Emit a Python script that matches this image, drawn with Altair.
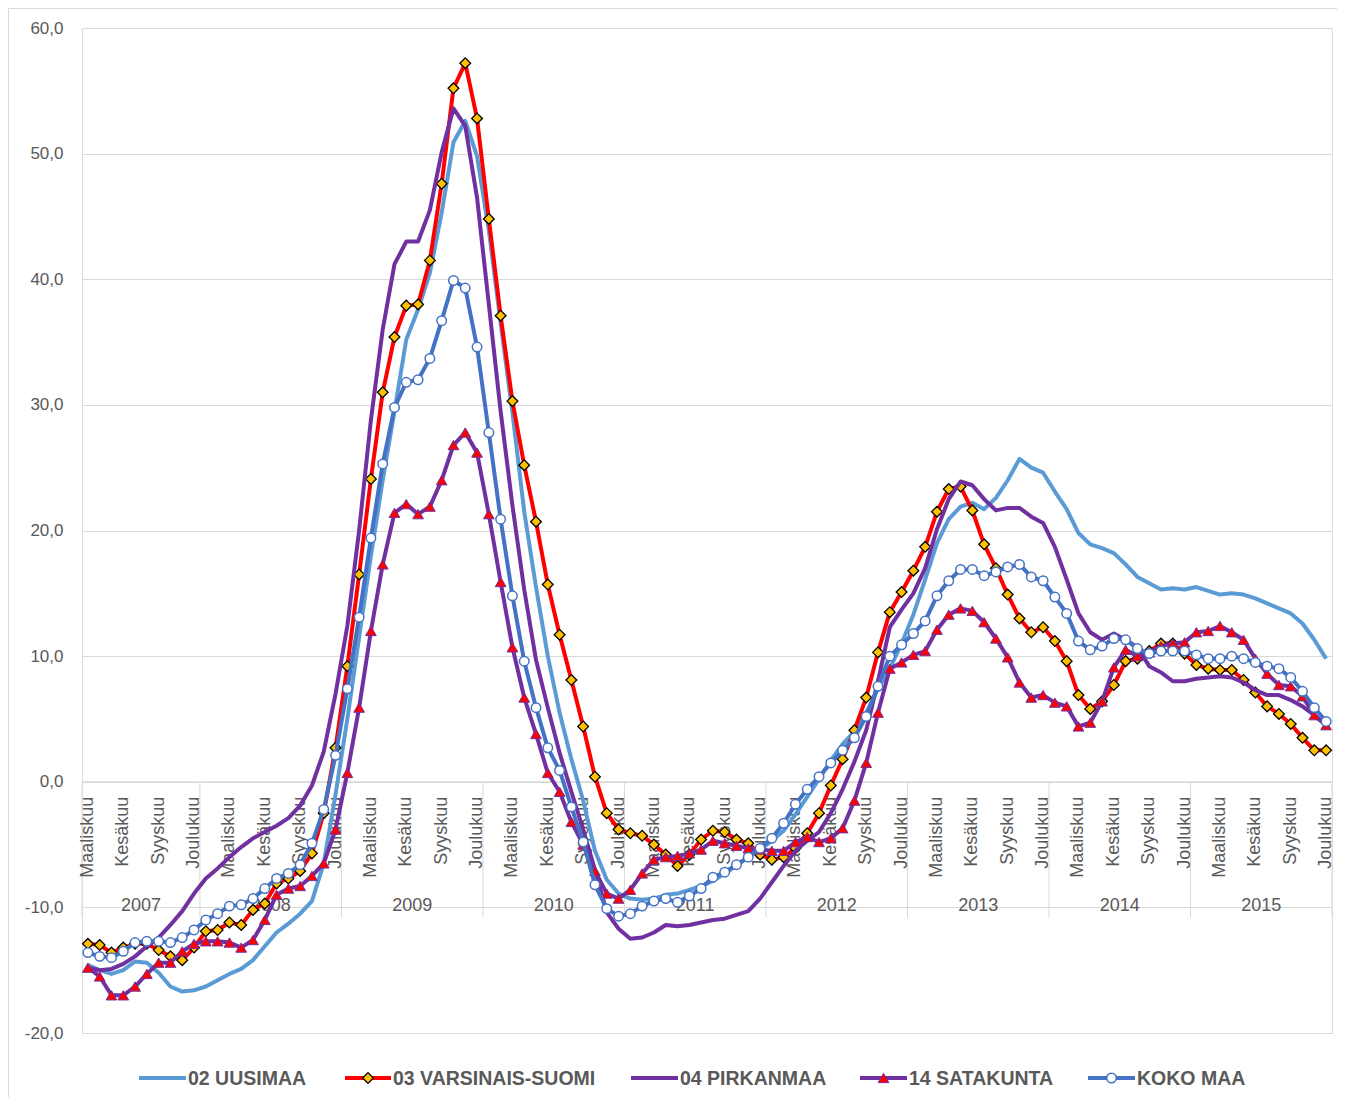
import altair as alt
import pandas as pd

# ---------------- data (monthly, Maaliskuu 2007 .. Joulukuu 2015) ----------------
uusimaa = [-14.6, -15.0, -15.3, -15.0, -14.3, -14.4, -15.2, -16.3, -16.7, -16.6,
           -16.3, -15.8, -15.3, -14.9, -14.2, -13.1, -12.0, -11.3, -10.5, -9.5, -6.5, -1.0,
           5.0, 11.5, 18.0, 24.0, 29.5, 35.2, 37.6, 40.5, 45.3, 50.9, 52.6, 49.8,
           43.9, 36.5, 29.4, 21.5, 15.5, 10.0, 5.5, 1.8, -1.5, -5.5, -7.8, -8.9,
           -9.3, -9.4, -9.3, -9.0, -8.9, -8.6, -8.3, -7.9, -7.3, -6.7, -6.0, -5.4,
           -4.7, -3.9, -2.6, -1.2, 0.2, 1.7, 3.0, 4.0, 5.5, 7.4, 9.0, 11.0,
           13.3, 16.1, 19.0, 20.9, 21.9, 22.2, 21.7, 22.6, 24.0, 25.7, 25.0, 24.6,
           23.1, 21.7, 19.8, 18.9, 18.6, 18.2, 17.3, 16.3, 15.8, 15.3, 15.4, 15.3,
           15.5, 15.2, 14.9, 15.0, 14.9, 14.6, 14.2, 13.8, 13.4, 12.6, 11.3, 9.8]
varsinais_suomi = [-12.9, -13.0, -13.6, -13.2, -12.9, -12.9, -13.4, -13.9, -14.2, -13.2,
                   -11.9, -11.8, -11.2, -11.4, -10.2, -9.7, -8.1, -7.7, -7.1, -5.7, -2.5, 2.7,
                   9.2, 16.5, 24.1, 31.0, 35.4, 37.9, 38.0, 41.5, 47.6, 55.2, 57.2, 52.8,
                   44.8, 37.1, 30.3, 25.2, 20.7, 15.7, 11.7, 8.1, 4.4, 0.4, -2.5, -3.8,
                   -4.1, -4.3, -5.0, -5.8, -6.7, -5.8, -4.6, -3.9, -4.0, -4.6, -4.9, -5.8,
                   -6.2, -6.0, -5.3, -4.1, -2.5, -0.3, 1.8, 4.1, 6.7, 10.3, 13.5, 15.1,
                   16.8, 18.7, 21.5, 23.3, 23.5, 21.6, 18.9, 17.0, 14.9, 13.0, 11.9, 12.3,
                   11.2, 9.6, 6.9, 5.8, 6.4, 7.7, 9.6, 9.8, 10.4, 11.0, 11.0, 10.2,
                   9.3, 9.0, 8.9, 8.9, 8.1, 7.1, 6.0, 5.4, 4.6, 3.5, 2.5, 2.5]
pirkanmaa = [-14.8, -15.0, -14.9, -14.5, -13.9, -13.1, -12.4, -11.4, -10.3, -8.9,
             -7.7, -6.9, -6.0, -5.2, -4.5, -4.0, -3.5, -2.9, -1.9, -0.3, 2.4, 7.0,
             12.4, 20.0, 28.8, 36.0, 41.2, 43.0, 43.0, 45.5, 50.1, 53.6, 52.2, 46.5,
             38.0, 29.5, 22.0, 15.3, 9.7, 5.9, 2.3, -0.8, -3.8, -7.0, -10.4, -11.7,
             -12.5, -12.4, -12.0, -11.4, -11.5, -11.4, -11.2, -11.0, -10.9, -10.6, -10.3, -9.3,
             -8.0, -6.7, -5.5, -4.7, -4.0, -2.5, -0.6, 1.6, 4.1, 8.0, 12.3, 13.7,
             15.0, 17.0, 20.1, 22.5, 23.9, 23.6, 22.5, 21.6, 21.8, 21.8, 21.1, 20.6,
             18.7, 16.1, 13.4, 11.9, 11.3, 11.8, 11.3, 10.7, 9.2, 8.7, 8.0, 8.0,
             8.2, 8.3, 8.4, 8.3, 7.9, 7.3, 6.9, 6.9, 6.5, 6.0, 5.3, 4.5]
satakunta = [-14.8, -15.5, -17.0, -17.0, -16.3, -15.3, -14.4, -14.4, -13.5, -12.9,
             -12.7, -12.7, -12.8, -13.2, -12.6, -11.0, -9.0, -8.5, -8.3, -7.5, -6.5, -3.8,
             0.7, 5.9, 12.0, 17.3, 21.4, 22.1, 21.3, 21.9, 24.0, 26.8, 27.8, 26.2,
             21.3, 15.9, 10.7, 6.7, 3.8, 0.7, -0.8, -3.2, -5.0, -7.1, -8.9, -9.3,
             -8.6, -7.3, -6.2, -6.0, -5.9, -5.7, -5.4, -4.7, -4.9, -5.1, -5.3, -5.4,
             -5.5, -5.5, -4.8, -4.4, -4.8, -4.5, -3.7, -1.5, 1.5, 5.5, 9.0, 9.5,
             10.1, 10.4, 12.1, 13.3, 13.8, 13.6, 12.7, 11.4, 9.9, 7.9, 6.7, 6.9,
             6.3, 6.0, 4.4, 4.7, 6.4, 9.1, 10.5, 10.0, 10.3, 10.8, 11.0, 11.1,
             11.9, 12.0, 12.4, 11.9, 11.3, 9.8, 8.6, 7.7, 7.6, 6.8, 5.3, 4.5]
koko_maa = [-13.6, -13.9, -14.0, -13.5, -12.8, -12.7, -12.7, -12.8, -12.4, -11.8,
            -11.0, -10.5, -9.9, -9.8, -9.3, -8.5, -7.7, -7.3, -6.6, -4.9, -2.2, 2.1,
            7.4, 13.1, 19.4, 25.3, 29.8, 31.8, 32.0, 33.7, 36.7, 39.9, 39.3, 34.6,
            27.8, 20.9, 14.8, 9.6, 5.9, 2.7, 0.9, -2.0, -4.8, -8.2, -10.1, -10.7,
            -10.5, -9.9, -9.5, -9.3, -9.6, -9.1, -8.5, -7.6, -7.2, -6.6, -6.0, -5.3,
            -4.5, -3.3, -1.8, -0.6, 0.4, 1.5, 2.5, 3.5, 5.2, 7.6, 10.0, 10.9,
            11.8, 12.8, 14.8, 16.0, 16.9, 16.9, 16.4, 16.7, 17.1, 17.3, 16.3, 16.0,
            14.7, 13.4, 11.2, 10.5, 10.8, 11.4, 11.3, 10.6, 10.2, 10.4, 10.4, 10.4,
            10.1, 9.8, 9.8, 10.0, 9.8, 9.5, 9.2, 9.0, 8.3, 7.2, 5.9, 4.8]

series_names = ["02 UUSIMAA", "03 VARSINAIS-SUOMI", "04 PIRKANMAA", "14 SATAKUNTA", "KOKO MAA"]
years = ["2007", "2008", "2009", "2010", "2011", "2012", "2013", "2014", "2015"]
quarter_labels = {3: "Maaliskuu", 6: "Kesäkuu", 9: "Syyskuu", 12: "Joulukuu"}
first_month = 3  # data starts in March 2007

n = len(koko_maa)
idx = list(range(n))
months = [(first_month - 1 + i) % 12 + 1 for i in idx]

df = pd.DataFrame({"i": idx, "uus": uusimaa, "vs": varsinais_suomi, "pir": pirkanmaa,
                   "sat": satakunta, "koko": koko_maa})

month_df = pd.DataFrame({"i": [i for i in idx if months[i] in quarter_labels],
                         "label": [quarter_labels[months[i]] for i in idx if months[i] in quarter_labels]})

# year boundaries
year_start = [-0.5]
for i in idx[1:]:
    if months[i] == 1:
        year_start.append(i - 0.5)
year_end = year_start[1:] + [n - 0.5]
year_df = pd.DataFrame({"year": years, "center": [(a + b) / 2 for a, b in zip(year_start, year_end)]})
sep_df = pd.DataFrame({"sep": year_start + [n - 0.5]})

W, H = 1250, 1005
PL, PT, PR, PB = 74, 20, 5, 64
XS = alt.Scale(domain=[-0.5, n - 0.5], nice=False, zero=False)
YS = alt.Scale(domain=[-20, 60], nice=False, zero=False)
TXT = "#595959"
GRID = "#D9D9D9"
FONT = "Liberation Sans"

AXY = alt.Axis(values=list(range(-20, 61, 10)), grid=True, gridColor=GRID, gridWidth=1,
               domain=False, ticks=False, title=None, labelFont=FONT, labelFontSize=17,
               labelColor=TXT, labelPadding=19,
               labelExpr="(datum.value < 0 ? '-' : '') + replace(format(abs(datum.value), '.1f'), '.', ',')")

def xq(field):
    return alt.X(field, type="quantitative", scale=XS, axis=None)

def yq(field):
    return alt.Y(field, type="quantitative", scale=YS, axis=AXY)

def yd(v):
    return alt.Y(datum=v, type="quantitative", scale=YS, axis=AXY)

one = alt.Data(values=[{"k": 1}])

# chart-area border (left and top edges are inside the picture)
border_left = alt.Chart(one).mark_rule(color=GRID, strokeWidth=1).encode(
    x=alt.value(-PL + 0.5), y=alt.value(-PT + 0.5), y2=alt.value(H + PB))
border_top = alt.Chart(one).mark_rule(color=GRID, strokeWidth=1).encode(
    x=alt.value(-PL + 0.5), x2=alt.value(W + PR), y=alt.value(-PT + 0.5))

# category axis at y = 0
axis_line = alt.Chart(one).mark_rule(color=GRID, strokeWidth=1).encode(
    x=alt.X(datum=-0.5, type="quantitative", scale=XS, axis=None),
    x2=alt.X2(datum=n - 0.5),
    y=yd(0))

seps = alt.Chart(sep_df).mark_rule(color=GRID, strokeWidth=1).encode(
    x=xq("sep"), y=yd(0), y2=alt.Y2(datum=-10.8))

month_text = alt.Chart(month_df).mark_text(
    angle=270, align="right", baseline="middle", font=FONT, fontSize=18, color=TXT, yOffset=15
).encode(x=xq("i"), y=yd(0), text="label:N")

year_text = alt.Chart(year_df).mark_text(
    align="center", baseline="middle", font=FONT, fontSize=18, color=TXT
).encode(x=xq("center"), y=yd(-9.9), text="year:N")

def line(field, color):
    return alt.Chart(df).mark_line(color=color, strokeWidth=4, strokeJoin="round").encode(
        x=xq("i"), y=yq(field))

def points(field, shape, fill, stroke, size, sw):
    return alt.Chart(df).mark_point(shape=shape, filled=True, fill=fill, stroke=stroke,
                                    strokeWidth=sw, size=size, opacity=1).encode(
        x=xq("i"), y=yq(field))

C_UUS = "#5B9BD5"
C_VS = "#FF0000"
C_PIR = "#7030A0"
C_KOKO = "#4472C4"

layers = [
    border_left, border_top, axis_line, seps, month_text, year_text,
    line("uus", C_UUS),
    line("vs", C_VS), points("vs", "diamond", "#FFC000", "#000000", 115, 1.3),
    line("pir", C_PIR),
    line("sat", C_PIR), points("sat", "triangle-up", "#FF0000", C_PIR, 115, 1.0),
    line("koko", C_KOKO), points("koko", "circle", "#FFFFFF", C_KOKO, 90, 1.5),
]

# legend (bottom)
LY = 1050
leg_items = [
    (series_names[0], C_UUS, None, 57, 104),
    (series_names[1], C_VS, ("diamond", "#FFC000", "#000000", 115, 1.3), 263, 309),
    (series_names[2], C_PIR, None, 549, 596),
    (series_names[3], C_PIR, ("triangle-up", "#FF0000", C_PIR, 115, 1.0), 778, 825),
    (series_names[4], C_KOKO, ("circle", "#FFFFFF", C_KOKO, 90, 1.5), 1006, 1053),
]
for name, col, mk, x0, x1 in leg_items:
    layers.append(alt.Chart(one).mark_rule(color=col, strokeWidth=4).encode(
        x=alt.value(x0), x2=alt.value(x1), y=alt.value(LY)))
    if mk is not None:
        shape, fill, stroke, size, sw = mk
        layers.append(alt.Chart(one).mark_point(shape=shape, filled=True, fill=fill, stroke=stroke,
                                                strokeWidth=sw, size=size, opacity=1).encode(
            x=alt.value((x0 + x1) / 2), y=alt.value(LY)))
    layers.append(alt.Chart(one).mark_text(
        align="left", baseline="middle", font=FONT, fontSize=19.5, fontWeight="bold", color=TXT
    ).encode(x=alt.value(x1 + 2), y=alt.value(LY + 1), text=alt.value(name)))

chart = alt.layer(*layers).properties(
    width=W, height=H,
    padding={"left": PL, "top": PT, "right": PR, "bottom": PB},
    autosize=alt.AutoSizeParams(type="none"),
).configure_view(strokeWidth=0).configure(background="white")

chart.save("out.html", embed_options={"renderer": "svg", "actions": False})
